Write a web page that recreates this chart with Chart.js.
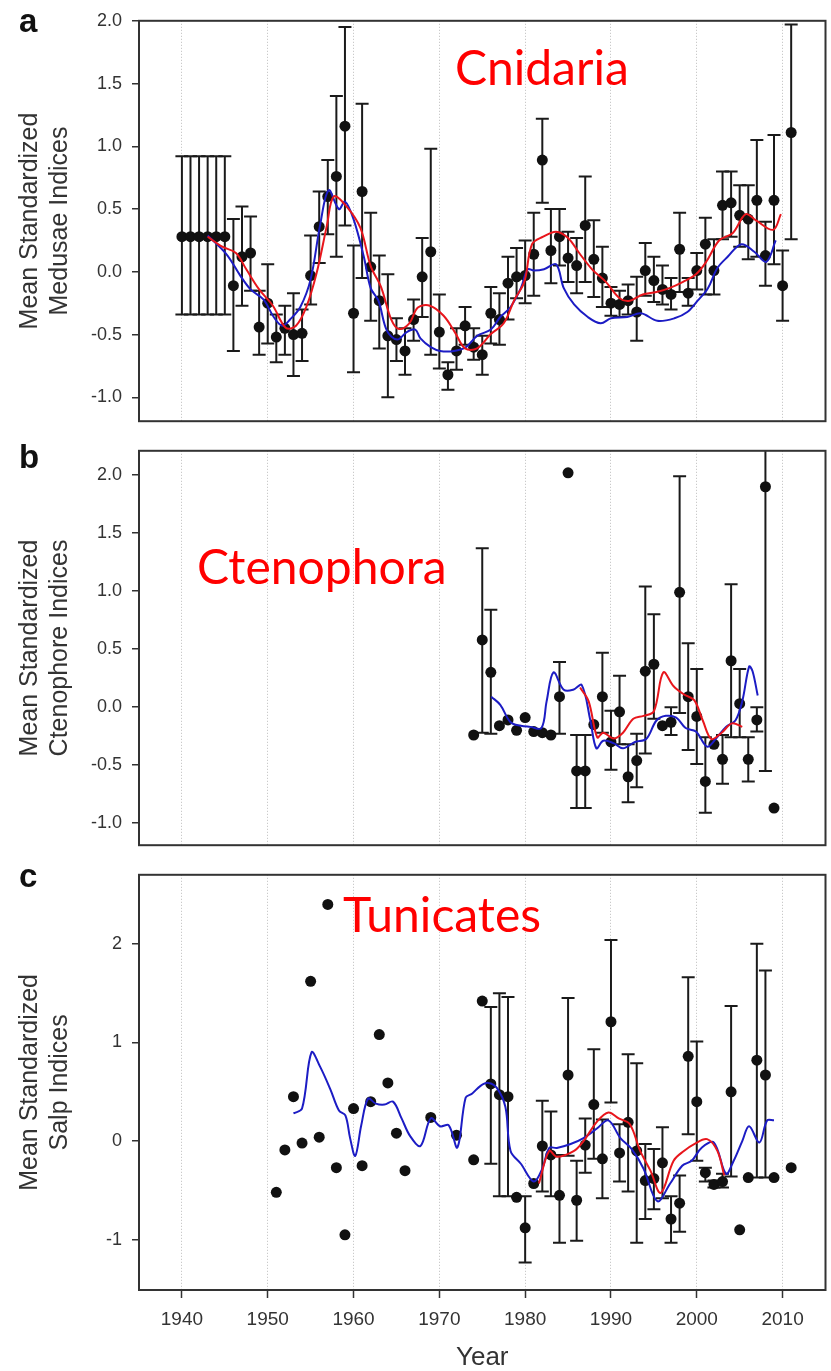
<!DOCTYPE html>
<html>
<head>
<meta charset="utf-8">
<script src="https://cdn.jsdelivr.net/npm/chart.js@4.4.0/dist/chart.umd.min.js"></script>
<style>
  html, body { margin: 0; padding: 0; background: #fff; }
  #wrap { position: relative; width: 831px; height: 1371px; overflow: hidden; }
  canvas { position: absolute; left: 0; }
</style>
</head>
<body>
<div id="wrap">
  <canvas id="panel-a" width="831" height="442" style="top:0px"></canvas>
  <canvas id="panel-b" width="831" height="436" style="top:430px"></canvas>
  <canvas id="panel-c" width="831" height="517" style="top:854px"></canvas>
</div>
<script>
/* shared x axis */
const decadeTicks = [1940, 1950, 1960, 1970, 1980, 1990, 2000, 2010];

/* a - Cnidaria (medusae) */
const medYears = [1940, 1941, 1942, 1943, 1944, 1945, 1946, 1947, 1948, 1949, 1950, 1951, 1952, 1953, 1954, 1955,
  1956, 1957, 1958, 1959, 1960, 1961, 1962, 1963, 1964, 1965, 1966, 1967, 1968, 1969, 1970, 1971, 1972, 1973,
  1974, 1975, 1976, 1977, 1978, 1979, 1980, 1981, 1982, 1983, 1984, 1985, 1986, 1987, 1988, 1989, 1990, 1991,
  1992, 1993, 1994, 1995, 1996, 1997, 1998, 1999, 2000, 2001, 2002, 2003, 2004, 2005, 2006, 2007, 2008, 2009,
  2010, 2011];
const medValues = [0.28, 0.28, 0.28, 0.28, 0.28, 0.28, -0.11, 0.12, 0.15, -0.44, -0.25, -0.52, -0.45, -0.50, -0.49, -0.03,
  0.36, 0.60, 0.76, 1.16, -0.33, 0.64, 0.04, -0.23, -0.51, -0.54, -0.63, -0.38, -0.04, 0.16, -0.48, -0.82, -0.63, -0.43,
  -0.60, -0.66, -0.33, -0.38, -0.09, -0.04, -0.03, 0.14, 0.89, 0.17, 0.28, 0.11, 0.05, 0.37, 0.10, -0.05, -0.25, -0.26,
  -0.23, -0.32, 0.01, -0.07, -0.14, -0.18, 0.18, -0.17, 0.01, 0.22, 0.01, 0.53, 0.55, 0.45, 0.42, 0.57, 0.13, 0.57,
  -0.11, 1.11];
const medHigh = [0.92, 0.92, 0.92, 0.92, 0.92, 0.92, 0.42, 0.52, 0.44, -0.15, 0.06, -0.34, -0.27, -0.17, -0.30, 0.29,
  0.64, 0.89, 1.40, 1.95, 0.21, 1.34, 0.47, 0.13, -0.02, -0.37, -0.45, -0.22, 0.27, 0.98, -0.18, -0.72, -0.45, -0.28,
  -0.45, -0.51, -0.12, -0.17, 0.12, 0.19, 0.25, 0.47, 1.22, 0.50, 0.50, 0.32, 0.27, 0.76, 0.41, 0.20, -0.12, -0.15,
  -0.10, -0.04, 0.23, 0.12, 0.05, -0.05, 0.47, -0.05, 0.15, 0.43, 0.26, 0.80, 0.80, 0.69, 0.69, 1.05, 0.40, 1.09,
  0.17, 1.97];
const medLow = [-0.34, -0.34, -0.34, -0.34, -0.34, -0.34, -0.63, -0.27, -0.15, -0.66, -0.57, -0.72, -0.66, -0.83, -0.71, -0.26,
  0.07, 0.30, 0.12, 0.37, -0.80, -0.05, -0.39, -0.61, -1.00, -0.71, -0.82, -0.55, -0.36, -0.66, -0.77, -0.94, -0.78, -0.58,
  -0.70, -0.82, -0.57, -0.58, -0.38, -0.21, -0.25, -0.19, 0.55, -0.09, 0.05, -0.08, -0.17, -0.08, -0.20, -0.28, -0.35, -0.36,
  -0.34, -0.55, -0.19, -0.24, -0.26, -0.30, -0.16, -0.27, -0.14, -0.18, -0.18, 0.26, 0.28, 0.20, 0.10, 0.12, -0.11, 0.06,
  -0.39, 0.26];
const medRedX = [1943, 1944.7, 1946.3, 1947.5, 1949.0, 1950.6, 1952.1, 1953.3, 1954.5, 1955.7, 1956.9, 1957.7, 1959.2,
  1960.8, 1962.0, 1963.2, 1964.4, 1965.3, 1966.5, 1967.5, 1968.9, 1970.5, 1971.8, 1973.0, 1974.4, 1976.0, 1977.5, 1978.7,
  1979.9, 1980.8, 1982.1, 1983.6, 1985.0, 1986.3, 1987.8, 1989.4, 1991.0, 1992.2, 1993.7, 1995.3, 1996.8, 1998.4, 1999.9,
  2001.1, 2002.6, 2004.2, 2005.7, 2006.9, 2008.9, 2009.8];
const medRedY = [0.28, 0.20, 0.15, 0.02, -0.14, -0.27, -0.445, -0.43, -0.28, -0.01, 0.37, 0.60, 0.52,
  0.35, 0.045, -0.12, -0.38, -0.455, -0.41, -0.285, -0.27, -0.35, -0.48, -0.61, -0.61, -0.495, -0.41, -0.23,
  -0.08, 0.22, 0.28, 0.32, 0.27, 0.15, 0.02, -0.08, -0.21, -0.23, -0.18, -0.16, -0.13, -0.08, -0.02,
  0.08, 0.25, 0.31, 0.46, 0.41, 0.335, 0.46];
const medBlueX = [1943, 1945.2, 1946.8, 1948.0, 1949.5, 1950.7, 1951.7, 1952.6, 1953.8, 1955.0, 1956.1, 1957.1, 1958.3,
  1959.0, 1960.0, 1961.2, 1962.0, 1962.9, 1963.9, 1965.1, 1966.2, 1967.2, 1967.8, 1969.0, 1970.1, 1971.7, 1973.1, 1974.4,
  1976.0, 1977.1, 1978.3, 1979.5, 1980.3, 1981.0, 1982.2, 1983.6, 1984.5, 1985.7, 1987.3, 1988.8, 1990.0, 1991.9, 1993.5,
  1995.4, 1997.4, 1998.9, 2000.1, 2001.3, 2002.4, 2003.6, 2005.2, 2006.7, 2008.1, 2009.2];
const medBlueY = [0.29, 0.14, -0.03, -0.14, -0.22, -0.36, -0.43, -0.38, -0.28, -0.06, 0.37, 0.65, 0.50,
  0.56, 0.42, 0.12, -0.13, -0.23, -0.47, -0.54, -0.48, -0.46, -0.53, -0.60, -0.63, -0.63, -0.60, -0.51,
  -0.46, -0.36, -0.28, -0.13, 0.02, 0.01, 0.02, 0.06, -0.13, -0.26, -0.36, -0.41, -0.37, -0.36, -0.33,
  -0.39, -0.37, -0.32, -0.23, -0.13, 0.03, 0.12, 0.22, 0.16, 0.08, 0.25];
const medTicks = [-1.0, -0.5, 0.0, 0.5, 1.0, 1.5, 2.0];

/* b - Ctenophora */
const ctenoYears = [1974, 1975, 1976, 1977, 1978, 1979, 1980, 1981, 1982, 1983, 1984, 1985, 1986, 1987, 1988, 1989,
  1990, 1991, 1992, 1993, 1994, 1995, 1996, 1997, 1998, 1999, 2000, 2001, 2002, 2003, 2004, 2005, 2006, 2007, 2008, 2009];
const ctenoValues = [-0.24, 0.58, 0.30, -0.16, -0.11, -0.20, -0.09, -0.21, -0.22, -0.24, 0.09, 2.02, -0.55, -0.55, -0.15, 0.09,
  -0.30, -0.04, -0.60, -0.46, 0.31, 0.37, -0.16, -0.13, 0.99, 0.09, -0.08, -0.64, -0.32, -0.45, 0.40, 0.03, -0.45, -0.11, 1.90, -0.87];
const ctenoHigh = [null, 1.37, 0.84, null, null, null, null, null, null, null, 0.39, null, -0.24, -0.24, null, 0.47,
  -0.03, 0.27, -0.32, -0.23, 1.04, 0.80, null, 0.00, 1.99, 0.55, 0.33, -0.26, null, -0.24, 1.06, 0.33, -0.26, 0.00, 2.40, null];
const ctenoLow = [null, -0.22, -0.23, null, null, null, null, null, null, null, -0.23, null, -0.87, -0.87, null, -0.22,
  -0.54, -0.32, -0.82, -0.69, -0.40, -0.10, null, -0.24, -0.05, -0.37, -0.49, -0.91, null, -0.66, -0.26, -0.26, -0.64, -0.21, -0.55, null];
const ctenoRedX = [1986.4, 1987.4, 1988.4, 1989.1, 1990.3, 1991.4, 1992.6, 1993.8, 1995.0, 1996.1, 1997.3, 1998.5,
  1999.7, 2000.7, 2001.7, 2002.9, 2004.1, 2005.3];
const ctenoRedY = [0.17, 0.05, -0.26, -0.22, -0.27, -0.22, -0.10, -0.075, -0.035, 0.30, 0.18, 0.11,
  0.06, -0.115, -0.275, -0.22, -0.14, -0.17];
const ctenoBlueX = [1976.05, 1977.1, 1978.3, 1979.5, 1980.6, 1981.9, 1982.5, 1983.3, 1984.5, 1985.6, 1986.6, 1987.6,
  1988.3, 1989.1, 1990.3, 1991.4, 1992.8, 1994.1, 1995.3, 1996.4, 1997.6, 1998.7, 1999.9, 2001.2, 2002.2, 2003.4,
  2004.5, 2005.3, 2006.1, 2006.5, 2007.1];
const ctenoBlueY = [0.09, 0.02, -0.13, -0.16, -0.17, -0.18, 0.05, 0.30, 0.15, 0.15, 0.19, -0.115,
  -0.355, -0.29, -0.31, -0.355, -0.30, -0.275, -0.115, -0.075, -0.09, -0.18, -0.21, -0.34, -0.275, -0.17,
  -0.115, 0.05, 0.35, 0.31, 0.10];
const ctenoTicks = [-1.0, -0.5, 0.0, 0.5, 1.0, 1.5, 2.0];

/* c - Tunicates (salps) */
const salpYears = [1951, 1952, 1953, 1954, 1955, 1956, 1957, 1958, 1959, 1960, 1961, 1962, 1963, 1964, 1965, 1966,
  1969, 1972, 1974, 1975, 1976, 1977, 1978, 1979, 1980, 1981, 1982, 1983, 1984, 1985, 1986, 1987, 1988, 1989, 1990,
  1991, 1992, 1993, 1994, 1995, 1996, 1997, 1998, 1999, 2000, 2001, 2002, 2003, 2004, 2005, 2006, 2007, 2008, 2009, 2011];
const salpValues = [-0.52, -0.09, 0.45, -0.02, 1.62, 0.04, 2.40, -0.27, -0.95, 0.33, -0.25, 0.40, 1.08, 0.59, 0.08, -0.30,
  0.24, 0.06, -0.19, 1.42, 0.58, 0.47, 0.45, -0.57, -0.88, -0.43, -0.05, -0.14, -0.55, 0.67, -0.60, -0.04, 0.37, -0.18, 1.21,
  -0.12, 0.19, -0.10, -0.40, -0.38, -0.22, -0.79, -0.63, 0.86, 0.40, -0.32, -0.44, -0.41, 0.50, -0.90, -0.37, 0.82, 0.67, -0.37, -0.27];
const salpHigh = [null, null, null, null, null, null, null, null, null, null, null, null, null, null, null, null,
  null, null, null, null, 1.36, 1.50, 1.46, null, -0.56, null, 0.41, 0.30, -0.14, 1.45, -0.20, 0.23, 0.93, 0.22, 2.04,
  0.17, 0.88, 0.79, -0.03, -0.08, 0.14, -0.56, -0.35, 1.66, 1.01, -0.27, -0.40, -0.33, 1.37, null, null, 2.00, 1.73, null, null];
const salpLow = [null, null, null, null, null, null, null, null, null, null, null, null, null, null, null, null,
  null, null, null, null, -0.23, -0.56, -0.56, null, -1.23, null, -0.51, -0.56, -1.03, -0.15, -1.01, -0.32, -0.18, -0.58, 0.39,
  -0.41, -0.51, -1.03, -0.79, -0.69, -0.58, -1.03, -0.92, 0.07, -0.20, -0.41, -0.47, -0.47, -0.36, null, null, -0.37, -0.37, null, null];
const salpRedX = [1981.6, 1982.8, 1983.7, 1985.7, 1986.8, 1988.4, 1989.7, 1990.9, 1992.2, 1993.4, 1994.6, 1995.8,
  1997.3, 1998.5, 1999.7, 2001.2, 2002.4, 2003.2];
const salpRedY = [-0.43, -0.10, -0.16, -0.10, 0.0, 0.20, 0.29, 0.23, 0.17, -0.10, -0.30, -0.525,
  -0.20, -0.10, -0.03, 0.02, -0.10, -0.35];
const salpBlueX = [1953.0, 1954.0, 1955.1, 1956.1, 1957.3, 1958.3, 1959.05, 1959.6, 1960.2, 1960.9, 1961.7, 1962.6,
  1963.6, 1964.6, 1965.6, 1966.6, 1967.8, 1969.0, 1970.1, 1971.1, 1972.1, 1973.06, 1973.8, 1974.8, 1975.7, 1976.7,
  1977.7, 1978.3, 1979.5, 1981.0, 1982.0, 1982.8, 1983.7, 1985.3, 1986.8, 1988.4, 1989.7, 1991.1, 1992.4, 1993.8,
  1995.4, 1996.9, 1998.3, 1999.4, 2000.6, 2002.0, 2003.4, 2004.3, 2005.3, 2006.1, 2007.3, 2008.2, 2009.0];
const salpBlueY = [0.28, 0.33, 0.90, 0.755, 0.525, 0.31, 0.26, 0.03, -0.15, 0.16, 0.43, 0.38,
  0.37, 0.40, 0.23, 0.05, -0.05, 0.23, 0.15, 0.16, -0.065, 0.44, 0.48, 0.56, 0.59, 0.54,
  0.345, -0.10, -0.23, -0.41, -0.28, -0.07, -0.07, -0.03, 0.03, 0.13, 0.21, 0.03, -0.08, -0.28,
  -0.61, -0.43, -0.25, -0.20, -0.065, -0.015, -0.33, -0.20, 0.0, 0.15, -0.015, 0.21, 0.21];
const salpTicks = [-1, 0, 1, 2];

const RED = '#e8161c';
const BLUE = '#1c1cc4';
const INK = '#1a1a1a';
const AXIS_FONT = "'Liberation Sans', Arial, sans-serif";

function toXY(xs, ys) {
    return xs.map((x, i) => ({ x: x, y: ys[i] }));
}

// error bars are drawn under the dots, clipped to the plot box
function errorBars(years, low, high) {
    return {
        id: 'errorBars',
        beforeDatasetsDraw(chart) {
            const { ctx, chartArea: a, scales: { x, y } } = chart;
            ctx.save();
            ctx.beginPath();
            ctx.rect(a.left, a.top, a.width, a.height);
            ctx.clip();
            ctx.strokeStyle = INK;
            ctx.lineWidth = 2;
            years.forEach((yr, i) => {
                if (high[i] == null || low[i] == null) return;
                const px = x.getPixelForValue(yr);
                const top = y.getPixelForValue(high[i]);
                const bot = y.getPixelForValue(low[i]);
                ctx.beginPath();
                ctx.moveTo(px, top); ctx.lineTo(px, bot);
                ctx.moveTo(px - 6.5, top); ctx.lineTo(px + 6.5, top);
                ctx.moveTo(px - 6.5, bot); ctx.lineTo(px + 6.5, bot);
                ctx.stroke();
            });
            ctx.restore();
        }
    };
}

// frame round the plot + panel letter + red taxon name
function decorations(p) {
    return {
        id: 'decorations',
        afterDraw(chart) {
            const { ctx, chartArea: a } = chart;
            ctx.save();
            ctx.strokeStyle = '#333';
            ctx.lineWidth = 2;
            ctx.strokeRect(a.left, a.top, a.width, a.height);

            ctx.fillStyle = '#111';
            ctx.font = "bold 33px " + AXIS_FONT;
            ctx.textBaseline = 'alphabetic';
            ctx.fillText(p.letter, p.letterPos[0], p.letterPos[1]);

            ctx.fillStyle = '#ff0000';
            ctx.font = "48px Lato, 'Open Sans', sans-serif";
            ctx.fillText(p.name, p.namePos[0], p.namePos[1]);
            ctx.restore();
        }
    };
}

function makePanel(canvasId, p) {
    const ctx = document.getElementById(canvasId).getContext('2d');

    const xAxis = {
        type: 'linear',
        min: 1935,
        max: 2015,
        afterBuildTicks: s => { s.ticks = decadeTicks.map(v => ({ value: v })); },
        afterFit: s => { s.height = p.showX ? 81 : 0; },
        border: { display: false, dash: [1, 2] },
        grid: {
            color: '#bdbdbd',
            lineWidth: 1,
            drawTicks: p.showX,
            tickLength: 8,
            tickColor: '#333',
            tickWidth: 1.5,
            tickBorderDash: []
        },
        ticks: {
            display: p.showX,
            color: '#333',
            padding: 10,
            font: { family: AXIS_FONT, size: 19 },
            callback: v => String(v)
        },
        title: {
            display: p.showX,
            text: 'Year',
            color: '#333',
            padding: { top: 0, bottom: 0 },
            font: { family: AXIS_FONT, size: 26, lineHeight: 1.0 }
        }
    };

    const yAxis = {
        type: 'linear',
        min: p.yMin,
        max: p.yMax,
        afterBuildTicks: s => { s.ticks = p.yTicks.map(v => ({ value: v })); },
        afterFit: s => { s.width = 139; },
        border: { display: false },
        grid: {
            drawOnChartArea: false,
            drawTicks: true,
            tickLength: 7,
            color: '#333',
            lineWidth: 1.5
        },
        ticks: {
            color: '#333',
            padding: 10,
            font: { family: AXIS_FONT, size: 18 },
            callback: v => v.toFixed(p.decimals)
        },
        title: {
            display: true,
            text: p.title,
            color: '#333',
            padding: { top: 15, bottom: 0 },
            font: { family: AXIS_FONT, size: 25, lineHeight: 1.2 }
        }
    };

    return new Chart(ctx, {
        type: 'scatter',
        data: {
            datasets: [
                {
                    label: 'red',
                    data: toXY(p.redX, p.redY),
                    showLine: true,
                    borderColor: RED,
                    borderWidth: 2,
                    pointRadius: 0,
                    tension: 0.35,
                    order: 0
                },
                {
                    label: 'blue',
                    data: toXY(p.blueX, p.blueY),
                    showLine: true,
                    borderColor: BLUE,
                    borderWidth: 2,
                    pointRadius: 0,
                    tension: 0.35,
                    order: 1
                },
                {
                    label: 'index',
                    data: toXY(p.years, p.values),
                    pointRadius: 5.5,
                    pointBackgroundColor: '#111',
                    pointBorderWidth: 0,
                    order: 2
                }
            ]
        },
        options: {
            responsive: false,
            animation: false,
            devicePixelRatio: 1,
            events: [],
            layout: { padding: p.padding },
            scales: { x: xAxis, y: yAxis },
            plugins: { legend: { display: false }, tooltip: { enabled: false } }
        },
        plugins: [errorBars(p.years, p.low, p.high), decorations(p)]
    });
}

makePanel('panel-a', {
    years: medYears, values: medValues, low: medLow, high: medHigh,
    redX: medRedX, redY: medRedY, blueX: medBlueX, blueY: medBlueY,
    yMin: -1.19, yMax: 2.0, yTicks: medTicks, decimals: 1,
    title: ['Mean Standardized', 'Medusae Indices'],
    letter: 'a', letterPos: [19, 32], name: 'Cnidaria', namePos: [455, 85],
    showX: false, padding: { left: 0, right: 5, top: 17, bottom: 2 }
});

makePanel('panel-b', {
    years: ctenoYears, values: ctenoValues, low: ctenoLow, high: ctenoHigh,
    redX: ctenoRedX, redY: ctenoRedY, blueX: ctenoBlueX, blueY: ctenoBlueY,
    yMin: -1.19, yMax: 2.21, yTicks: ctenoTicks, decimals: 1,
    title: ['Mean Standardized', 'Ctenophore Indices'],
    letter: 'b', letterPos: [19, 38], name: 'Ctenophora', namePos: [197, 154],
    showX: false, padding: { left: 0, right: 5, top: 10, bottom: 2 }
});

makePanel('panel-c', {
    years: salpYears, values: salpValues, low: salpLow, high: salpHigh,
    redX: salpRedX, redY: salpRedY, blueX: salpBlueX, blueY: salpBlueY,
    yMin: -1.51, yMax: 2.70, yTicks: salpTicks, decimals: 0,
    title: ['Mean Standardized', 'Salp Indices'],
    letter: 'c', letterPos: [19, 33], name: 'Tunicates', namePos: [343, 78],
    showX: true, padding: { left: 0, right: 5, top: 10, bottom: 0 }
});
</script>
</body>
</html>
